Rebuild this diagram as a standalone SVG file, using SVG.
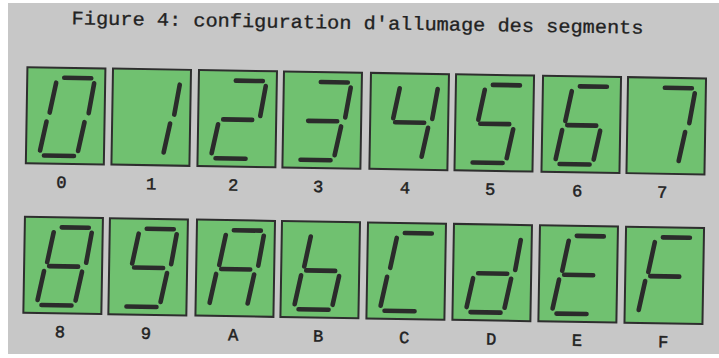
<svg xmlns="http://www.w3.org/2000/svg" xmlns:xlink="http://www.w3.org/1999/xlink" width="719" height="358" viewBox="0 0 719 358">
<style>
.box{fill:#70c170;stroke:#2e2e2e;stroke-width:2}
.seg{stroke:#2b2b2b;stroke-width:4.6;stroke-linecap:round;fill:none}
.lbl{font-family:"Liberation Mono","Courier New",monospace;font-size:17px;fill:#222;stroke:#222;stroke-width:0.5;text-anchor:middle}
.title{font-family:"Liberation Mono","Courier New",monospace;font-size:19px;fill:#222;stroke:#222;stroke-width:0.3}
</style>
<defs>
<line id="a" class="seg" x1="37" y1="10" x2="64" y2="10"/>
<line id="b" class="seg" x1="67" y1="15" x2="62" y2="45"/>
<line id="c" class="seg" x1="58" y1="54" x2="52" y2="83"/>
<line id="d" class="seg" x1="18" y1="88" x2="48" y2="88"/>
<line id="e" class="seg" x1="20" y1="54" x2="14" y2="83"/>
<line id="f" class="seg" x1="29" y1="15" x2="23" y2="45"/>
<line id="g" class="seg" x1="25" y1="49" x2="54" y2="49"/>
</defs>
<rect x="0" y="0" width="719" height="358" fill="#ffffff"/>
<rect x="8" y="3" width="711" height="351" fill="#c7c7c7"/>
<g transform="rotate(0.95 360 180)">
<text class="title" x="69" y="29" textLength="572" lengthAdjust="spacingAndGlyphs">Figure 4: configuration d'allumage des segments</text>
<g id="digit-0" transform="translate(25.6,72.7)"><rect class="box" width="78" height="96"/><use href="#a"/><use href="#b"/><use href="#c"/><use href="#d"/><use href="#e"/><use href="#f"/><text class="lbl" x="36" y="120">0</text></g>
<g id="digit-1" transform="translate(111.2,72.7)"><rect class="box" width="78" height="96"/><use href="#b"/><use href="#c"/><text class="lbl" x="40" y="120">1</text></g>
<g id="digit-2" transform="translate(197.2,72.7)"><rect class="box" width="78" height="96"/><use href="#a"/><use href="#b"/><use href="#g"/><use href="#e"/><use href="#d"/><text class="lbl" x="36" y="120">2</text></g>
<g id="digit-3" transform="translate(282.2,72.7)"><rect class="box" width="78" height="96"/><use href="#a"/><use href="#b"/><use href="#g"/><use href="#c"/><use href="#d"/><text class="lbl" x="36" y="120">3</text></g>
<g id="digit-4" transform="translate(369.2,72.7)"><rect class="box" width="78" height="96"/><use href="#f"/><use href="#g"/><use href="#b"/><use href="#c"/><text class="lbl" x="36" y="120">4</text></g>
<g id="digit-5" transform="translate(454.3,72.7)"><rect class="box" width="78" height="96"/><use href="#a"/><use href="#f"/><use href="#g"/><use href="#c"/><use href="#d"/><text class="lbl" x="36" y="120">5</text></g>
<g id="digit-6" transform="translate(541.3,72.7)"><rect class="box" width="78" height="96"/><use href="#a"/><use href="#f"/><use href="#g"/><use href="#e"/><use href="#c"/><use href="#d"/><text class="lbl" x="36" y="120">6</text></g>
<g id="digit-7" transform="translate(626.3,72.7)"><rect class="box" width="78" height="96"/><use href="#a"/><use href="#b"/><use href="#c"/><text class="lbl" x="36" y="120">7</text></g>
<g id="digit-8" transform="translate(25.6,222.3)"><rect class="box" width="78" height="96"/><use href="#a"/><use href="#b"/><use href="#c"/><use href="#d"/><use href="#e"/><use href="#f"/><use href="#g"/><text class="lbl" x="37" y="120">8</text></g>
<g id="digit-9" transform="translate(110.6,222.3)"><rect class="box" width="78" height="96"/><use href="#a"/><use href="#b"/><use href="#c"/><use href="#d"/><use href="#f"/><use href="#g"/><text class="lbl" x="38" y="120">9</text></g>
<g id="digit-A" transform="translate(197.7,222.3)"><rect class="box" width="78" height="96"/><use href="#a"/><use href="#b"/><use href="#c"/><use href="#e"/><use href="#f"/><use href="#g"/><text class="lbl" x="38" y="120">A</text></g>
<g id="digit-B" transform="translate(282.7,222.3)"><rect class="box" width="78" height="96"/><use href="#f"/><use href="#e"/><use href="#g"/><use href="#c"/><use href="#d"/><text class="lbl" x="38" y="120">B</text></g>
<g id="digit-C" transform="translate(368.7,222.3)"><rect class="box" width="78" height="96"/><use href="#a"/><use href="#f"/><use href="#e"/><use href="#d"/><text class="lbl" x="38" y="120">C</text></g>
<g id="digit-D" transform="translate(454.7,222.3)"><rect class="box" width="78" height="96"/><use href="#b"/><use href="#c"/><use href="#d"/><use href="#e"/><use href="#g"/><text class="lbl" x="39" y="120">D</text></g>
<g id="digit-E" transform="translate(540.7,222.3)"><rect class="box" width="78" height="96"/><use href="#a"/><use href="#f"/><use href="#g"/><use href="#e"/><use href="#d"/><text class="lbl" x="39" y="120">E</text></g>
<g id="digit-F" transform="translate(626.8,222.3)"><rect class="box" width="78" height="96"/><use href="#a"/><use href="#f"/><use href="#g"/><use href="#e"/><text class="lbl" x="39" y="120">F</text></g>
</g>
</svg>
